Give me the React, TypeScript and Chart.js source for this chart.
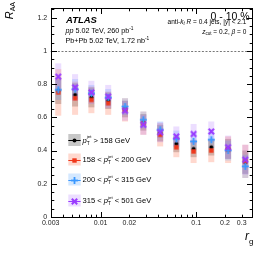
import React, { useEffect, useRef } from 'react';
import { Chart, registerables } from 'chart.js';

Chart.register(...registerables);

const FAM = "'Liberation Sans', Arial, Helvetica, sans-serif";

// r_g bin centres
const rg = [0.0036, 0.0054, 0.008, 0.012, 0.018, 0.028, 0.042, 0.062, 0.094, 0.144, 0.216, 0.327];

// R_AA values per jet pT selection
const raaPt158 = [0.76, 0.735, 0.72, 0.7, 0.65, 0.57, 0.505, 0.44, 0.41, 0.42, 0.41, 0.33];
const raaPt158to200 = [0.75, 0.715, 0.705, 0.685, 0.645, 0.565, 0.495, 0.42, 0.395, 0.4, 0.405, 0.335];
const raaPt200to315 = [0.765, 0.77, 0.745, 0.72, 0.665, 0.585, 0.525, 0.47, 0.455, 0.465, 0.4, 0.305];
const raaPt315to501 = [0.845, 0.78, 0.75, 0.725, 0.64, 0.555, 0.51, 0.485, 0.5, 0.515, 0.42, 0.345];

// systematic uncertainties (half size of the boxes)
const sysPt158 = [0.08, 0.07, 0.06, 0.05, 0.05, 0.05, 0.05, 0.05, 0.05, 0.05, 0.06, 0.07];
const sysPt158to200 = [0.14, 0.1, 0.08, 0.07, 0.07, 0.07, 0.07, 0.06, 0.07, 0.07, 0.08, 0.1];
const sysPt200to315 = [0.06, 0.06, 0.05, 0.05, 0.05, 0.05, 0.05, 0.05, 0.05, 0.05, 0.06, 0.07];
const sysPt315to501 = [0.08, 0.08, 0.07, 0.07, 0.06, 0.06, 0.06, 0.06, 0.06, 0.06, 0.07, 0.09];

const yTickValues = [0, 0.2, 0.4, 0.6, 0.8, 1, 1.2];
const xLabelValues = [0.003, 0.01, 0.02, 0.1, 0.2, 0.3];
const xLabelTexts = ['0.003', '0.01', '0.02', '0.1', '0.2', '0.3'];
const xMinorTicks = [0.004, 0.005, 0.006, 0.007, 0.008, 0.009, 0.02, 0.03, 0.04, 0.05, 0.06, 0.07, 0.08, 0.09, 0.2, 0.3];
const xMajorTicks = [0.01, 0.1];

const ptLow = ['', '158', '200', '315'];
const ptHigh = ['158', '200', '315', '501'];

type Part = { t: string; s: number; st?: string; dy?: number; sup?: { t: string; s: number; dy: number } };

const series = [
  { vals: raaPt158, sys: sysPt158, color: '#000000', box: 'rgba(0,0,0,0.22)', marker: 'circle', order: 3 },
  { vals: raaPt158to200, sys: sysPt158to200, color: '#f0381c', box: 'rgba(255,90,50,0.24)', marker: 'square', order: 2 },
  { vals: raaPt200to315, sys: sysPt200to315, color: '#3a98ff', box: 'rgba(60,150,255,0.22)', marker: 'plus', order: 1 },
  { vals: raaPt315to501, sys: sysPt315to501, color: '#9a3cff', box: 'rgba(160,90,255,0.2)', marker: 'x', order: 0 },
];

function font(p: { s: number; st?: string }) {
  return `${p.st ? p.st + ' ' : ''}${p.s}px ${FAM}`;
}

function partsWidth(ctx: CanvasRenderingContext2D, parts: Part[]) {
  let w = 0;
  for (const p of parts) {
    ctx.font = font(p);
    let pw = ctx.measureText(p.t).width;
    if (p.sup) {
      ctx.font = font(p.sup);
      pw = Math.max(pw, ctx.measureText(p.sup.t).width);
    }
    w += pw;
  }
  return w;
}

function drawParts(ctx: CanvasRenderingContext2D, parts: Part[], x: number, y: number, align: 'left' | 'right' = 'left') {
  const total = partsWidth(ctx, parts);
  let cx = align === 'right' ? x - total : x;
  ctx.textAlign = 'left';
  ctx.textBaseline = 'alphabetic';
  for (const p of parts) {
    ctx.font = font(p);
    let pw = ctx.measureText(p.t).width;
    ctx.fillText(p.t, cx, y + (p.dy || 0));
    if (p.sup) {
      ctx.font = font(p.sup);
      ctx.fillText(p.sup.t, cx, y + p.sup.dy);
      pw = Math.max(pw, ctx.measureText(p.sup.t).width);
    }
    cx += pw;
  }
}

function makeMarker(kind: string, color: string) {
  const c = document.createElement('canvas');
  c.width = 9;
  c.height = 9;
  const g = c.getContext('2d')!;
  g.fillStyle = color;
  if (kind === 'circle') {
    g.beginPath();
    g.arc(4.5, 4.5, 2.0, 0, Math.PI * 2);
    g.fill();
  } else if (kind === 'square') {
    g.fillRect(2.3, 2.3, 4.4, 4.4);
  } else if (kind === 'plus') {
    g.fillRect(1, 3.6, 7, 1.8);
    g.fillRect(3.6, 1, 1.8, 7);
  } else {
    g.translate(4.5, 4.5);
    g.rotate(Math.PI / 4);
    g.fillRect(-3.8, -1, 7.6, 2);
    g.fillRect(-1, -3.8, 2, 7.6);
  }
  return c;
}

export default function App() {
  const ref = useRef<HTMLCanvasElement | null>(null);

  useEffect(() => {
    const canvas = ref.current!;
    const markers = series.map((s) => makeMarker(s.marker, s.color));

    const boxesPlugin = {
      id: 'sysBoxes',
      beforeDatasetsDraw(chart: any) {
        const { ctx, chartArea } = chart;
        const xs = chart.scales.x;
        const ys = chart.scales.y;
        ctx.save();
        ctx.strokeStyle = '#555';
        ctx.lineWidth = 0.8;
        ctx.setLineDash([2, 1.6]);
        const y1 = Math.round(ys.getPixelForValue(1)) + 0.5;
        ctx.beginPath();
        ctx.moveTo(chartArea.left, y1);
        ctx.lineTo(chartArea.right, y1);
        ctx.stroke();
        ctx.setLineDash([]);
        ctx.beginPath();
        ctx.rect(chartArea.left, chartArea.top, chartArea.right - chartArea.left, chartArea.bottom - chartArea.top);
        ctx.clip();
        for (const s of series) {
          ctx.fillStyle = s.box;
          s.vals.forEach((v, i) => {
            const px = xs.getPixelForValue(rg[i]);
            const pt = ys.getPixelForValue(v + s.sys[i]);
            const pb = ys.getPixelForValue(v - s.sys[i]);
            ctx.fillRect(px - 3, pt, 6, pb - pt);
          });
        }
        ctx.restore();
      },
    };

    const decorPlugin = {
      id: 'decor',
      afterDraw(chart: any) {
        const { ctx, chartArea } = chart;
        const { left, right, top, bottom } = chartArea;
        const xs = chart.scales.x;
        const ys = chart.scales.y;
        ctx.save();
        ctx.strokeStyle = '#000';
        ctx.lineWidth = 1;
        const L = Math.round(left) + 0.5;
        const R = Math.round(right) + 0.5;
        const T = Math.round(top) + 0.5;
        const B = Math.round(bottom) + 0.5;
        ctx.strokeRect(L, T, R - L, B - T);
        ctx.beginPath();
        for (let k = 0; k <= 25; k++) {
          const v = k * 0.05;
          const len = k % 4 === 0 ? 5.5 : 2.8;
          const py = Math.round(ys.getPixelForValue(v)) + 0.5;
          ctx.moveTo(L, py);
          ctx.lineTo(L + len, py);
          ctx.moveTo(R, py);
          ctx.lineTo(R - len, py);
        }
        const xt = [...xMinorTicks.map((v) => [v, 2.8]), ...xMajorTicks.map((v) => [v, 5.5])];
        for (const [v, len] of xt) {
          const px = Math.round(xs.getPixelForValue(v)) + 0.5;
          ctx.moveTo(px, B);
          ctx.lineTo(px, B - len);
          ctx.moveTo(px, T);
          ctx.lineTo(px, T + len);
        }
        ctx.stroke();

        ctx.fillStyle = '#000';
        drawParts(ctx, [{ t: 'ATLAS', s: 9.5, st: 'bold italic' }], 66, 22.5);
        drawParts(ctx, [
          { t: 'pp', s: 7.2, st: 'italic' },
          { t: ' 5.02 TeV, 260 pb', s: 7.2 },
          { t: '-1', s: 4.8, dy: -3 },
        ], 65.5, 33);
        drawParts(ctx, [
          { t: 'Pb+Pb 5.02 TeV, 1.72 nb', s: 7.2 },
          { t: '-1', s: 4.8, dy: -3 },
        ], 65.5, 43);
        drawParts(ctx, [{ t: '0 - 10 %', s: 10.5 }], 249.7, 19.5, 'right');
        drawParts(ctx, [
          { t: 'anti-', s: 6.5 },
          { t: 'k', s: 6.5, st: 'italic' },
          { t: 't', s: 4.5, st: 'italic', dy: 1.6 },
          { t: ' ', s: 6.5 },
          { t: 'R', s: 6.5, st: 'italic' },
          { t: ' = 0.4 jets, |', s: 6.5 },
          { t: 'y', s: 6.5, st: 'italic' },
          { t: '| < 2.1', s: 6.5 },
        ], 246.3, 23.5, 'right');
        drawParts(ctx, [
          { t: 'z', s: 6.5, st: 'italic' },
          { t: 'cut', s: 4.5, dy: 1.6 },
          { t: ' = 0.2, ', s: 6.5 },
          { t: 'β', s: 6.5, st: 'italic' },
          { t: ' = 0', s: 6.5 },
        ], 246.3, 33.5, 'right');

        ctx.save();
        ctx.translate(12.5, 2);
        ctx.rotate(-Math.PI / 2);
        drawParts(ctx, [
          { t: 'R', s: 11, st: 'italic' },
          { t: 'AA', s: 7, dy: 2.5 },
        ], 0, 0, 'right');
        ctx.restore();
        drawParts(ctx, [
          { t: 'r', s: 12, st: 'italic' },
          { t: 'g', s: 8, dy: 4 },
        ], 253.5, 240, 'right');

        const legY = [140, 159.5, 179.5, 200.5];
        series.forEach((s, i) => {
          const cy = legY[i];
          ctx.fillStyle = s.box;
          ctx.fillRect(68.3, cy - 6, 12.4, 12);
          ctx.strokeStyle = s.color;
          ctx.lineWidth = 1;
          ctx.beginPath();
          ctx.moveTo(68.3, Math.round(cy) + 0.5);
          ctx.lineTo(80.7, Math.round(cy) + 0.5);
          ctx.stroke();
          ctx.drawImage(markers[i], 74.5 - 4.5, Math.round(cy) + 0.5 - 4.5);
          ctx.fillStyle = '#000';
          const pT: Part[] = [
            { t: 'p', s: 7.6, st: 'italic' },
            { t: 'T', s: 4.8, dy: 2.2, sup: { t: 'jet', s: 4.4, dy: -4.6 } },
          ];
          const parts: Part[] = i === 0
            ? [...pT, { t: ' > ' + ptHigh[0] + ' GeV', s: 7.6 }]
            : [{ t: ptLow[i] + ' < ', s: 7.6 }, ...pT, { t: ' < ' + ptHigh[i] + ' GeV', s: 7.6 }];
          drawParts(ctx, parts, 82.5, cy + 2.7);
        });
        ctx.restore();
      },
    };

    const chart = new Chart(canvas, {
      type: 'scatter',
      data: {
        datasets: series.map((s, k) => ({
          label: 'series' + k,
          data: rg.map((x, i) => ({ x, y: s.vals[i] })),
          pointStyle: markers[k] as any,
          pointRadius: 4,
          pointHoverRadius: 4,
          borderWidth: 0,
          backgroundColor: s.color,
          borderColor: s.color,
          showLine: false,
          order: s.order,
        })),
      },
      options: {
        animation: false,
        responsive: false,
        events: [],
        layout: { padding: { top: 5.7, right: 13.7, left: 0, bottom: 0 } },
        plugins: { legend: { display: false }, tooltip: { enabled: false } },
        scales: {
          x: {
            type: 'logarithmic',
            min: 0.003,
            max: 0.387,
            grid: { display: false, drawTicks: false },
            border: { display: false },
            ticks: {
              autoSkip: false,
              maxRotation: 0,
              padding: 1.5,
              color: '#222',
              font: { family: FAM, size: 7 },
              callback: (_v: any, idx: number) => xLabelTexts[idx] ?? '',
            },
            afterBuildTicks: (s: any) => {
              s.ticks = xLabelValues.map((v) => ({ value: v }));
            },
            afterFit: (s: any) => {
              s.height = 39;
            },
          },
          y: {
            type: 'linear',
            min: 0,
            max: 1.26,
            grid: { display: false, drawTicks: false },
            border: { display: false },
            ticks: {
              padding: 3.5,
              color: '#222',
              font: { family: FAM, size: 7 },
              callback: (v: any) => String(Math.round(Number(v) * 10) / 10),
            },
            afterBuildTicks: (s: any) => {
              s.ticks = yTickValues.map((v) => ({ value: v }));
            },
            afterFit: (s: any) => {
              s.width = 50.7;
            },
          },
        },
      } as any,
      plugins: [boxesPlugin, decorPlugin],
    });
    return () => chart.destroy();
  }, []);

  return (
    <div style={{ position: 'fixed', left: 0, top: 0, width: 266, height: 256, background: '#fff' }}>
      <canvas ref={ref} width={266} height={256} style={{ width: 266, height: 256, display: 'block' }} />
    </div>
  );
}
